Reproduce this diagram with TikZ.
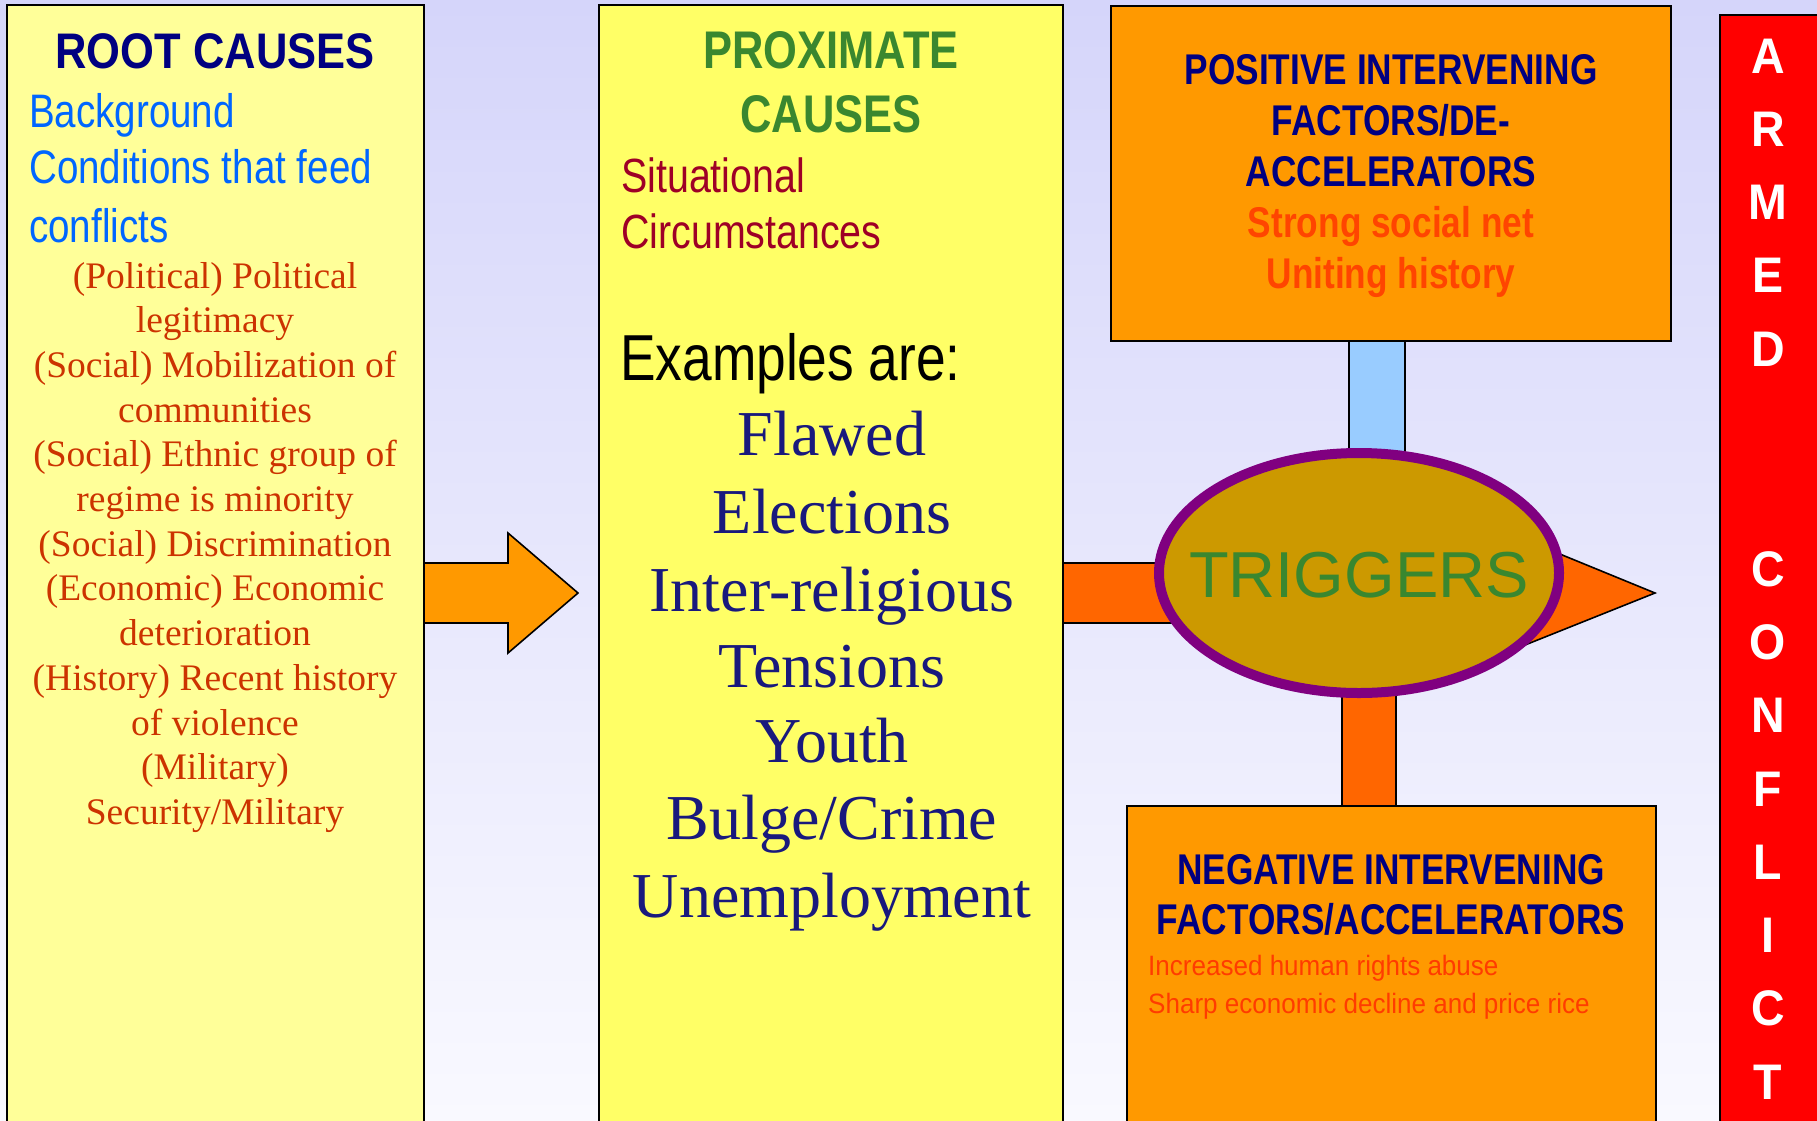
\documentclass[tikz,border=0pt]{standalone}
\usepackage{fontspec}
\setmainfont{Liberation Serif}
\newfontfamily\nsans[FakeStretch=0.82]{Liberation Sans}
\newfontfamily\wsans[FakeStretch=0.87]{Liberation Sans}
\newfontfamily\msans[FakeStretch=0.93]{Liberation Sans}
\newfontfamily\rsans{Liberation Sans}
\usetikzlibrary{shapes.geometric}
\definecolor{bgtop}{RGB}{213,213,250}
\definecolor{bgbot}{RGB}{249,249,255}
\definecolor{rootfill}{RGB}{255,255,153}
\definecolor{proxfill}{RGB}{255,255,102}
\definecolor{navy}{RGB}{0,0,128}
\definecolor{bgblue}{RGB}{0,102,255}
\definecolor{rootred}{RGB}{204,51,0}
\definecolor{proxgreen}{RGB}{58,135,47}
\definecolor{crimson}{RGB}{158,0,38}
\definecolor{bignavy}{RGB}{25,25,125}
\definecolor{boxorange}{RGB}{255,153,0}
\definecolor{hotorange}{RGB}{255,102,0}
\definecolor{posred}{RGB}{255,69,0}
\definecolor{negred}{RGB}{255,60,0}
\definecolor{conblue}{RGB}{153,204,255}
\definecolor{gold}{RGB}{204,153,0}
\definecolor{ellpurple}{RGB}{128,0,128}
\begin{document}
\begin{tikzpicture}[x=1pt,y=-1pt,
  box/.style={draw=black, line width=1.6pt, inner sep=0pt, outer sep=0pt, anchor=north west},
  txt/.style={anchor=base, inner sep=0pt},
  ltxt/.style={anchor=base west, inner sep=0pt},
  part/.style={draw=black, line width=1.6pt}]
\useasboundingbox (0,0) rectangle (1817,1120);
\clip (0,0) rectangle (1817,1120);
\fill[top color=bgtop,bottom color=bgbot] (0,0) rectangle (1817,1120);

% boxes
\node[box, fill=rootfill, minimum width=417pt, minimum height=1130pt] (root) at (7,5) {};
\node[box, fill=proxfill, minimum width=464pt, minimum height=1130pt] (prox) at (599,5) {};
\node[box, fill=boxorange, minimum width=560pt, minimum height=335pt] (pos) at (1111,6) {};
\node[box, fill=boxorange, minimum width=529pt, minimum height=330pt] (neg) at (1127,806) {};
\node[box, fill=red, minimum width=110pt, minimum height=1120pt] (armed) at (1720,15) {};

% block arrow root -> prox
\draw[part, fill=boxorange] (root.east |- 0,563) -- ++(84,0) -- ++(0,-30) -- ++(70,60) -- ++(-70,60) -- ++(0,-30) -- (root.east |- 0,623) -- cycle;

% connectors to triggers
\coordinate (tc) at (1359,573);
\draw[part, fill=conblue] (pos.south -| 1349,0) rectangle (1405,470);
\draw[part, fill=hotorange] (prox.east |- 0,563) rectangle (1200,623);
\draw[part, fill=hotorange] (1342,680) rectangle (neg.north -| 1396,0);
\draw[part, fill=hotorange] (1450,509) -- (1655,593) -- (1450,675) -- cycle;
\node[ellipse, draw=ellpurple, line width=10pt, fill=gold, minimum width=400pt, minimum height=240pt, inner sep=0pt] (trig) at (tc) {};
\node[txt, text=proxgreen, font=\rsans\fontsize{65}{70}\selectfont] (trigt) at (1359,597) {TRIGGERS};

% root texts
\node[txt, text=navy, font=\wsans\bfseries\fontsize{50}{55}\selectfont] (rt) at (215,68) {ROOT CAUSES};
\node[ltxt, text=bgblue, font=\nsans\fontsize{47}{52}\selectfont] (rb1) at (29,127) {Background};
\node[ltxt, text=bgblue, font=\nsans\fontsize{47}{52}\selectfont] (rb2) at (29,183) {Conditions that feed};
\node[ltxt, text=bgblue, font=\nsans\fontsize{47}{52}\selectfont] (rb3) at (29,242) {conflicts};
\foreach \t [count=\i] in {{(Political) Political},{legitimacy},{(Social) Mobilization of},{communities},{(Social) Ethnic group of},{regime is minority},{(Social) Discrimination},{(Economic) Economic},{deterioration},{(History) Recent history},{of violence},{(Military)},{Security/Military}}
  \node[txt, text=rootred, font=\fontsize{37.5}{42}\selectfont] (rl\i) at (215,{243.3+44.7*\i}) {\t};

% proximate texts
\node[txt, text=proxgreen, font=\nsans\bfseries\fontsize{53}{58}\selectfont] (pt1) at (831,68) {PROXIMATE};
\node[txt, text=proxgreen, font=\nsans\bfseries\fontsize{53}{58}\selectfont] (pt2) at (831,132) {CAUSES};
\node[ltxt, text=crimson, font=\nsans\fontsize{48}{54}\selectfont] (ps1) at (621,192) {Situational};
\node[ltxt, text=crimson, font=\nsans\fontsize{48}{54}\selectfont] (ps2) at (621,248) {Circumstances};
\node[ltxt, text=black, font=\nsans\fontsize{65}{70}\selectfont] (pex) at (620,380) {Examples are:};
\foreach \t/\y [count=\i] in {{Flawed}/455,{Elections}/533,{Inter-religious}/611,{Tensions}/687,{Youth}/762,{Bulge/Crime}/839,{Unemployment}/917}
  \node[txt, text=bignavy, font=\fontsize{64}{70}\selectfont] (pl\i) at (832,\y) {\t};

% positive texts
\foreach \t/\y [count=\i] in {{POSITIVE INTERVENING}/84,{FACTORS/DE-}/135,{ACCELERATORS}/186}
  \node[txt, text=navy, font=\nsans\bfseries\fontsize{43}{48}\selectfont] (ph\i) at (1391,\y) {\t};
\foreach \t/\y [count=\i] in {{Strong social net}/237,{Uniting history}/288}
  \node[txt, text=posred, font=\nsans\bfseries\fontsize{43}{48}\selectfont] (pp\i) at (1391,\y) {\t};

% negative texts
\foreach \t/\y [count=\i] in {{NEGATIVE INTERVENING}/884,{FACTORS/ACCELERATORS}/934}
  \node[txt, text=navy, font=\nsans\bfseries\fontsize{43}{48}\selectfont] (nh\i) at (1391,\y) {\t};
\node[ltxt, text=negred, font=\msans\fontsize{28}{32}\selectfont] (nr1) at (1148,975) {Increased human rights abuse};
\node[ltxt, text=negred, font=\msans\fontsize{28}{32}\selectfont] (nr2) at (1148,1013) {Sharp economic decline and price rice};

% armed conflict
\foreach \l/\k in {A/0,R/1,M/2,E/3,D/4,C/7,O/8,N/9,F/10,L/11,I/12,C/13,T/14}
  \node[txt, text=white, font=\msans\bfseries\fontsize{50}{55}\selectfont] (ac\k) at (1768,{73+73.3*\k}) {\l};
\end{tikzpicture}
\end{document}
